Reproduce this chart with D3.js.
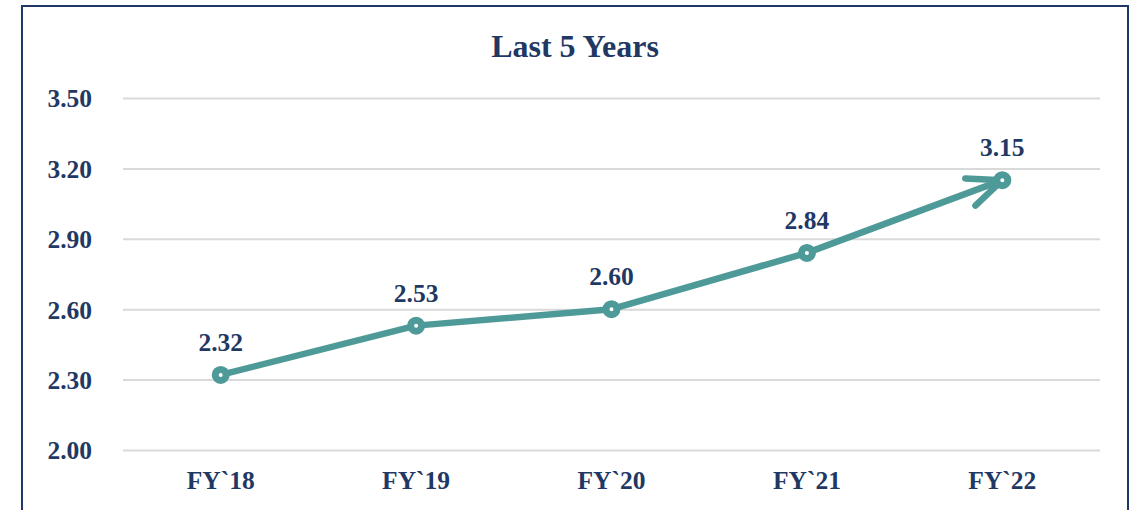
<!DOCTYPE html>
<html><head><meta charset="utf-8">
<script src="https://cdn.jsdelivr.net/npm/d3@7"></script>
<style>html,body{margin:0;padding:0;background:#fff;}svg{display:block;}</style>
</head><body>
<svg id="c" width="1135" height="510"></svg>
<script>
const categories = ["FY`18","FY`19","FY`20","FY`21","FY`22"];
const values = [2.32, 2.53, 2.60, 2.84, 3.15];
const yTicks = [2.00, 2.30, 2.60, 2.90, 3.20, 3.50];
const title = "Last 5 Years";

const navy = "#1f3864", teal = "#4e9a98", grid = "#d9d9d9";
const font = "'Liberation Serif','Times New Roman',serif";
const svg = d3.select("#c");

svg.append("rect").attr("x",22).attr("y",6).attr("width",1106).attr("height",530)
  .attr("fill","#fff").attr("stroke",navy).attr("stroke-width",2);

const m = {left:123, right:1100, top:98, bottom:450};
const x = d3.scaleBand().domain(categories).range([m.left,m.right]);
const y = d3.scaleLinear().domain([2.0,3.5]).range([m.bottom,m.top]);

svg.append("text").attr("x",575).attr("y",57).attr("text-anchor","middle")
  .attr("font-family",font).attr("font-weight","bold").attr("font-size",32)
  .attr("fill",navy).text(title);

// grid
const yAxis = d3.axisLeft(y).tickValues(yTicks).tickFormat(d3.format(".2f"))
  .tickSize(-(m.right-m.left)).tickPadding(31);
const gy = svg.append("g").attr("transform",`translate(${m.left},0)`).call(yAxis);
gy.select(".domain").remove();
gy.selectAll(".tick line").attr("stroke",grid).attr("stroke-width",2);
gy.selectAll(".tick text").attr("font-family",font).attr("font-weight","bold")
  .attr("font-size",25.5).attr("fill",navy).attr("dy","0.35em");

const xAxis = d3.axisBottom(x).tickSize(0).tickPadding(33);
const gx = svg.append("g").attr("transform",`translate(0,${m.bottom})`).call(xAxis);
gx.select(".domain").remove();
gx.selectAll(".tick text").attr("font-family",font).attr("font-weight","bold")
  .attr("font-size",25.5).attr("fill",navy).attr("dy","0.25em");

const cx = d => x(d) + x.bandwidth()/2;
const pts = categories.map((c,i)=>[cx(c), y(values[i])]);

svg.append("path").datum(pts).attr("d",d3.line())
  .attr("fill","none").attr("stroke",teal).attr("stroke-width",6.5)
  .attr("stroke-linejoin","round");

// arrowhead at last point
const [p1,p2] = [pts[pts.length-2], pts[pts.length-1]];
const ang = Math.atan2(p1[1]-p2[1], p1[0]-p2[0]);
const half = 23*Math.PI/180, len = 37;
const arm = s => [p2[0]+len*Math.cos(ang+s*half), p2[1]+len*Math.sin(ang+s*half)];
svg.append("path").attr("d", d3.line()([arm(1), p2, arm(-1)]))
  .attr("fill","none").attr("stroke",teal).attr("stroke-width",6.5)
  .attr("stroke-linecap","round").attr("stroke-linejoin","round");

svg.selectAll("circle.m").data(pts).join("circle").attr("class","m")
  .attr("cx",d=>d[0]).attr("cy",d=>d[1]).attr("r",5.5)
  .attr("fill","#fff").attr("stroke",teal).attr("stroke-width",7);

svg.selectAll("text.lab").data(pts).join("text").attr("class","lab")
  .attr("x",d=>d[0]).attr("y",d=>d[1]-24).attr("text-anchor","middle")
  .attr("font-family",font).attr("font-weight","bold").attr("font-size",25.5)
  .attr("fill",navy).text((d,i)=>values[i].toFixed(2));
</script>
</body></html>
